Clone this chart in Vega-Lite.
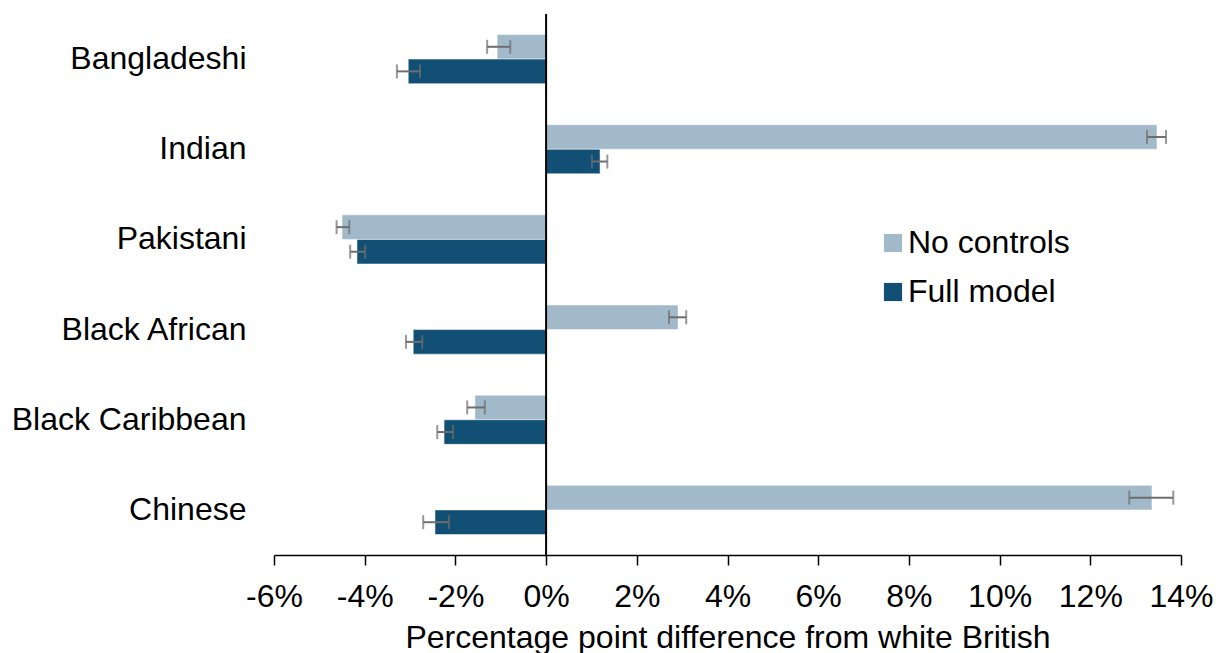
{
  "$schema": "https://vega.github.io/schema/vega-lite/v6.json",
  "width": 907,
  "height": 541,
  "autosize": {"type": "none"},
  "padding": {"left": 274, "top": 14, "right": 35, "bottom": 98},
  "background": "white",
  "config": {
    "view": {"stroke": null},
    "font": "Liberation Sans",
    "axis": {"labelFont": "Liberation Sans", "titleFont": "Liberation Sans", "grid": false}
  },
  "data": {
    "values": [
      {"group": "Bangladeshi", "model": "No controls", "value": -1.08, "lo": -1.30, "hi": -0.79},
      {"group": "Bangladeshi", "model": "Full model", "value": -3.04, "lo": -3.29, "hi": -2.78},
      {"group": "Indian", "model": "No controls", "value": 13.47, "lo": 13.25, "hi": 13.67},
      {"group": "Indian", "model": "Full model", "value": 1.19, "lo": 1.01, "hi": 1.35},
      {"group": "Pakistani", "model": "No controls", "value": -4.50, "lo": -4.62, "hi": -4.34},
      {"group": "Pakistani", "model": "Full model", "value": -4.17, "lo": -4.32, "hi": -3.99},
      {"group": "Black African", "model": "No controls", "value": 2.91, "lo": 2.71, "hi": 3.09},
      {"group": "Black African", "model": "Full model", "value": -2.93, "lo": -3.09, "hi": -2.73},
      {"group": "Black Caribbean", "model": "No controls", "value": -1.57, "lo": -1.74, "hi": -1.35},
      {"group": "Black Caribbean", "model": "Full model", "value": -2.25, "lo": -2.40, "hi": -2.05},
      {"group": "Chinese", "model": "No controls", "value": 13.36, "lo": 12.86, "hi": 13.83},
      {"group": "Chinese", "model": "Full model", "value": -2.45, "lo": -2.71, "hi": -2.14}
    ]
  },
  "encoding": {
    "y": {
      "field": "group",
      "type": "nominal",
      "sort": ["Bangladeshi", "Indian", "Pakistani", "Black African", "Black Caribbean", "Chinese"],
      "scale": {"paddingInner": 0.455, "paddingOuter": 0.2275},
      "axis": {"title": null, "domain": false, "ticks": false, "labelFontSize": 32, "labelColor": "black", "labelPadding": 28, "labelLimit": 400}
    },
    "yOffset": {
      "field": "model",
      "type": "nominal",
      "sort": ["No controls", "Full model"],
      "scale": {"paddingInner": 0, "paddingOuter": 0}
    }
  },
  "layer": [
    {
      "mark": {"type": "bar", "stroke": "white", "strokeWidth": 0.5},
      "encoding": {
        "x": {
          "field": "value",
          "type": "quantitative",
          "scale": {"domain": [-6, 14], "nice": false, "zero": false},
          "axis": {
            "values": [-6, -4, -2, 0, 2, 4, 6, 8, 10, 12, 14],
            "labelExpr": "datum.value + '%'",
            "labelFontSize": 32,
            "labelColor": "black",
            "labelPadding": 16,
            "labelOverlap": false,
            "labelFlush": false,
            "tickSize": 10,
            "tickColor": "black",
            "tickWidth": 1.5,
            "domainColor": "black",
            "domainWidth": 1.5,
            "title": "Percentage point difference from white British",
            "titleFontSize": 32,
            "titleFontWeight": "normal",
            "titleColor": "black",
            "titlePadding": 10
          }
        },
        "x2": {"datum": 0},
        "color": {
          "field": "model",
          "type": "nominal",
          "sort": ["No controls", "Full model"],
          "scale": {"domain": ["No controls", "Full model"], "range": ["#A2B9C9", "#124F74"]},
          "legend": {
            "title": null,
            "orient": "none",
            "legendX": 603,
            "legendY": 213,
            "symbolType": "square",
            "symbolSize": 330,
            "symbolStrokeWidth": 0,
            "labelFontSize": 32,
            "labelColor": "black",
            "labelFont": "Liberation Sans",
            "labelLimit": 400,
            "rowPadding": 17,
            "labelOffset": -1
          }
        }
      }
    },
    {
      "mark": {"type": "rule", "color": "#6E6E6E", "strokeWidth": 2},
      "encoding": {
        "x": {"field": "lo", "type": "quantitative"},
        "x2": {"field": "hi"}
      }
    },
    {
      "mark": {"type": "tick", "color": "#6E6E6E", "thickness": 2, "size": 14},
      "encoding": {"x": {"field": "lo", "type": "quantitative"}}
    },
    {
      "mark": {"type": "tick", "color": "#6E6E6E", "thickness": 2, "size": 14},
      "encoding": {"x": {"field": "hi", "type": "quantitative"}}
    },
    {
      "data": {"values": [{"zero": 0}]},
      "mark": {"type": "rule", "color": "black", "strokeWidth": 2},
      "encoding": {
        "x": {"field": "zero", "type": "quantitative"},
        "y": null,
        "yOffset": null
      }
    }
  ]
}
